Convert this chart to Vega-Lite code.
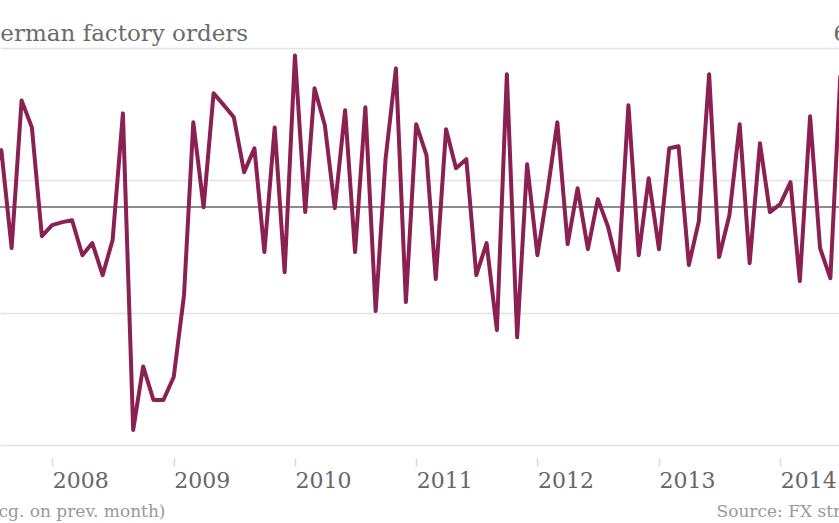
{
  "$schema": "https://vega.github.io/schema/vega-lite/v6.json",
  "width": 839,
  "height": 397,
  "autosize": "none",
  "padding": {"left": 0, "top": 48, "right": 0, "bottom": 78},
  "background": "white",
  "config": {"view": {"stroke": null}, "font": "DejaVu Serif"},
  "title": {
    "text": "German factory orders",
    "anchor": "start",
    "frame": "group",
    "dx": -18,
    "offset": -24,
    "font": "DejaVu Serif",
    "fontSize": 23,
    "fontWeight": "normal",
    "color": "#6b6b6b"
  },
  "data": {
    "values": [
      {"date": "2007-07-01", "value": 1.0},
      {"date": "2007-08-01", "value": 2.14},
      {"date": "2007-09-01", "value": -1.56},
      {"date": "2007-10-01", "value": 4.02},
      {"date": "2007-11-01", "value": 3.0},
      {"date": "2007-12-01", "value": -1.11},
      {"date": "2008-01-01", "value": -0.69},
      {"date": "2008-02-01", "value": -0.58},
      {"date": "2008-03-01", "value": -0.51},
      {"date": "2008-04-01", "value": -1.83},
      {"date": "2008-05-01", "value": -1.37},
      {"date": "2008-06-01", "value": -2.58},
      {"date": "2008-07-01", "value": -1.26},
      {"date": "2008-08-01", "value": 3.53},
      {"date": "2008-09-01", "value": -8.43},
      {"date": "2008-10-01", "value": -6.03},
      {"date": "2008-11-01", "value": -7.3},
      {"date": "2008-12-01", "value": -7.3},
      {"date": "2009-01-01", "value": -6.43},
      {"date": "2009-02-01", "value": -3.34},
      {"date": "2009-03-01", "value": 3.19},
      {"date": "2009-04-01", "value": -0.02},
      {"date": "2009-05-01", "value": 4.29},
      {"date": "2009-06-01", "value": 3.84},
      {"date": "2009-07-01", "value": 3.38},
      {"date": "2009-08-01", "value": 1.31},
      {"date": "2009-09-01", "value": 2.21},
      {"date": "2009-10-01", "value": -1.71},
      {"date": "2009-11-01", "value": 3.0},
      {"date": "2009-12-01", "value": -2.47},
      {"date": "2010-01-01", "value": 5.72},
      {"date": "2010-02-01", "value": -0.2},
      {"date": "2010-03-01", "value": 4.48},
      {"date": "2010-04-01", "value": 3.08},
      {"date": "2010-05-01", "value": -0.05},
      {"date": "2010-06-01", "value": 3.65},
      {"date": "2010-07-01", "value": -1.71},
      {"date": "2010-08-01", "value": 3.76},
      {"date": "2010-09-01", "value": -3.94},
      {"date": "2010-10-01", "value": 1.83},
      {"date": "2010-11-01", "value": 5.23},
      {"date": "2010-12-01", "value": -3.6},
      {"date": "2011-01-01", "value": 3.12},
      {"date": "2011-02-01", "value": 1.95},
      {"date": "2011-03-01", "value": -2.73},
      {"date": "2011-04-01", "value": 2.93},
      {"date": "2011-05-01", "value": 1.46},
      {"date": "2011-06-01", "value": 1.8},
      {"date": "2011-07-01", "value": -2.58},
      {"date": "2011-08-01", "value": -1.37},
      {"date": "2011-09-01", "value": -4.66},
      {"date": "2011-10-01", "value": 5.01},
      {"date": "2011-11-01", "value": -4.93},
      {"date": "2011-12-01", "value": 1.61},
      {"date": "2012-01-01", "value": -1.83},
      {"date": "2012-02-01", "value": 0.63},
      {"date": "2012-03-01", "value": 3.19},
      {"date": "2012-04-01", "value": -1.41},
      {"date": "2012-05-01", "value": 0.7},
      {"date": "2012-06-01", "value": -1.6},
      {"date": "2012-07-01", "value": 0.29},
      {"date": "2012-08-01", "value": -0.77},
      {"date": "2012-09-01", "value": -2.39},
      {"date": "2012-10-01", "value": 3.84},
      {"date": "2012-11-01", "value": -1.83},
      {"date": "2012-12-01", "value": 1.08},
      {"date": "2013-01-01", "value": -1.6},
      {"date": "2013-02-01", "value": 2.21},
      {"date": "2013-03-01", "value": 2.29},
      {"date": "2013-04-01", "value": -2.2},
      {"date": "2013-05-01", "value": -0.54},
      {"date": "2013-06-01", "value": 5.01},
      {"date": "2013-07-01", "value": -1.9},
      {"date": "2013-08-01", "value": -0.32},
      {"date": "2013-09-01", "value": 3.12},
      {"date": "2013-10-01", "value": -2.13},
      {"date": "2013-11-01", "value": 2.4},
      {"date": "2013-12-01", "value": -0.2},
      {"date": "2014-01-01", "value": 0.1},
      {"date": "2014-02-01", "value": 0.93},
      {"date": "2014-03-01", "value": -2.81},
      {"date": "2014-04-01", "value": 3.42},
      {"date": "2014-05-01", "value": -1.56},
      {"date": "2014-06-01", "value": -2.7},
      {"date": "2014-07-01", "value": 4.93},
      {"date": "2014-08-01", "value": -5.7}
    ]
  },
  "layer": [
    {
      "mark": {"type": "rule", "color": "#8c8c8c", "strokeWidth": 1.5},
      "encoding": {"y": {"datum": 0}}
    },
    {
      "mark": {
        "type": "line",
        "color": "#8a2150",
        "strokeWidth": 4,
        "strokeJoin": "round",
        "strokeCap": "round",
        "clip": true
      },
      "encoding": {
        "x": {
          "field": "date",
          "type": "temporal",
          "scale": {
            "type": "utc",
            "domain": [
              {"year": 2007, "month": 7, "date": 28, "utc": true},
              {"year": 2014, "month": 6, "date": 27, "utc": true}
            ]
          },
          "axis": {
            "values": [
              {"year": 2008, "utc": true},
              {"year": 2009, "utc": true},
              {"year": 2010, "utc": true},
              {"year": 2011, "utc": true},
              {"year": 2012, "utc": true},
              {"year": 2013, "utc": true},
              {"year": 2014, "utc": true}
            ],
            "format": "%Y",
            "formatType": "utc",
            "offset": 13,
            "domain": false,
            "grid": false,
            "tickSize": 8,
            "tickColor": "#d9d9d9",
            "tickWidth": 1.5,
            "labelAlign": "left",
            "labelBaseline": "alphabetic",
            "labelPadding": 21,
            "labelFont": "DejaVu Serif",
            "labelFontSize": 22,
            "labelColor": "#666666",
            "title": "(% cg. on prev. month)",
            "titleFont": "DejaVu Serif",
            "titleFontSize": 17,
            "titleFontWeight": "normal",
            "titleColor": "#999999",
            "titleAlign": "right",
            "titleAnchor": null,
            "titleBaseline": "alphabetic",
            "titleX": 165,
            "titleY": 58
          }
        },
        "y": {
          "field": "value",
          "type": "quantitative",
          "scale": {"domain": [-9, 6], "nice": false, "zero": false},
          "axis": {
            "orient": "right",
            "values": [6, 1, -4, -9],
            "labelExpr": "datum.value == 6 ? '6%' : '' + datum.value",
            "domain": false,
            "ticks": false,
            "grid": true,
            "gridColor": "#e3e3e3",
            "gridWidth": 1.5,
            "labelAlign": "right",
            "labelBaseline": "alphabetic",
            "labelPadding": 29,
            "labelOffset": -8,
            "labelFont": "DejaVu Serif",
            "labelFontSize": 22,
            "labelColor": "#666666",
            "title": "Source: FX street",
            "titleFont": "DejaVu Serif",
            "titleFontSize": 17,
            "titleFontWeight": "normal",
            "titleColor": "#999999",
            "titleAngle": 0,
            "titleAlign": "left",
            "titleAnchor": null,
            "titleBaseline": "alphabetic",
            "titleX": -123,
            "titleY": 468
          }
        }
      }
    }
  ]
}
